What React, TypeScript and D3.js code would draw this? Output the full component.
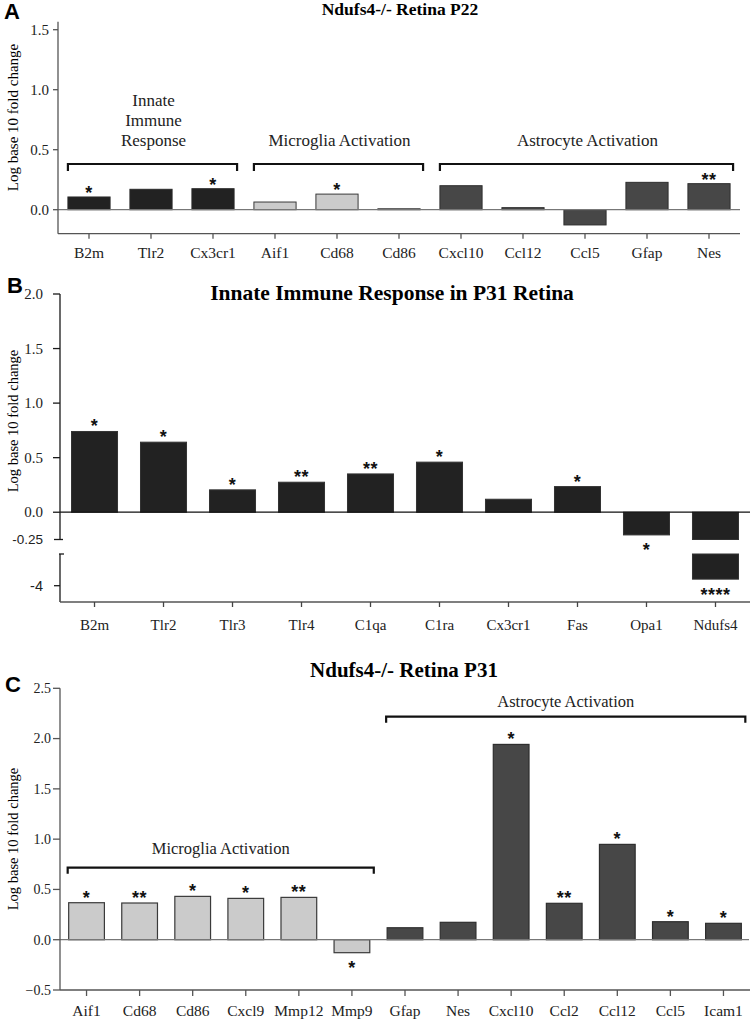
import React from "react";
import * as d3 from "d3";

// ---------- Panel A data ----------
const aCategories = ["B2m", "Tlr2", "Cx3cr1", "Aif1", "Cd68", "Cd86", "Cxcl10", "Ccl12", "Ccl5", "Gfap", "Nes"];
const aValues = [0.106, 0.17, 0.175, 0.064, 0.13, 0.008, 0.2, 0.017, -0.127, 0.228, 0.217];
const aStars = ["*", "", "*", "", "*", "", "", "", "", "", "**"];
const aGroups = ["innate", "innate", "innate", "microglia", "microglia", "microglia", "astro", "astro", "astro", "astro", "astro"];
const aTicks = [0, 0.5, 1.0, 1.5];
const aGroupNames = ["innate", "microglia", "astro"];
const aGroupLabels = [["Innate", "Immune", "Response"], ["Microglia Activation"], ["Astrocyte Activation"]];

// ---------- Panel B data ----------
const bCategories = ["B2m", "Tlr2", "Tlr3", "Tlr4", "C1qa", "C1ra", "Cx3cr1", "Fas", "Opa1", "Ndufs4"];
const bValues = [0.74, 0.642, 0.205, 0.275, 0.351, 0.459, 0.119, 0.235, -0.208, -3.94];
const bStars = ["*", "*", "*", "**", "**", "*", "", "*", "*", "****"];
const bTicksUpper = [0, 0.5, 1.0, 1.5, 2.0];
const bTicksBreakTop = [-0.25];
const bTicksLower = [-4];

// ---------- Panel C data ----------
const cCategories = ["Aif1", "Cd68", "Cd86", "Cxcl9", "Mmp12", "Mmp9", "Gfap", "Nes", "Cxcl10", "Ccl2", "Ccl12", "Ccl5", "Icam1"];
const cValues = [0.368, 0.365, 0.431, 0.411, 0.421, -0.129, 0.119, 0.173, 1.942, 0.362, 0.948, 0.179, 0.163];
const cStars = ["*", "**", "*", "*", "**", "*", "", "", "*", "**", "*", "*", "*"];
const cGroups = ["microglia", "microglia", "microglia", "microglia", "microglia", "microglia", "astro", "astro", "astro", "astro", "astro", "astro", "astro"];
const cTicks = [-0.5, 0, 0.5, 1.0, 1.5, 2.0, 2.5];
const cGroupNames = ["microglia", "astro"];
const cGroupLabels = [["Microglia Activation"], ["Astrocyte Activation"]];

const SERIF = "'Liberation Serif', 'Times New Roman', serif";
const SANS = "'Liberation Sans', Arial, sans-serif";

const fill: Record<string, string> = { innate: "#222222", microglia: "#cbcbcb", astro: "#474747" };
const stroke: Record<string, string> = { innate: "#2a2a2a", microglia: "#3a3a3a", astro: "#2e2e2e" };

const fmt = d3.format(".1f");

function Stars({ x, y, text }: { x: number; y: number; text: string }) {
  if (!text) return null;
  return (
    <text x={x} y={y} textAnchor="middle" fontFamily={SANS} fontSize={18} fontWeight="bold" letterSpacing={0.5} fill="#111">
      {text}
    </text>
  );
}

function PanelA() {
  const x = d3.scaleBand<string>().domain(aCategories).range([58, 740]).paddingInner(0.32).paddingOuter(0.16);
  const y = d3.scaleLinear().domain([-0.2, 1.5]).range([233.7, 29.7]);
  const bw = x.bandwidth();
  const axisColor = "#555";
  return (
    <g>
      <text x={4} y={19} fontFamily={SANS} fontWeight="bold" fontSize={22}>A</text>
      <text x={400} y={15} textAnchor="middle" fontFamily={SERIF} fontWeight="bold" fontSize={17.5}>Ndufs4-/- Retina P22</text>
      <text transform={`translate(18,117.5) rotate(-90)`} textAnchor="middle" fontFamily={SERIF} fontSize={15}>Log base 10 fold change</text>
      {aCategories.map((c, i) => {
        const v = aValues[i];
        const y0 = y(0), y1 = y(v);
        return (
          <rect key={c} x={x(c)} y={Math.min(y0, y1)} width={bw} height={Math.max(Math.abs(y1 - y0), 1)}
            fill={fill[aGroups[i]]} stroke={stroke[aGroups[i]]} strokeWidth={1} />
        );
      })}
      <line x1={58} x2={740} y1={y(0)} y2={y(0)} stroke="#777" strokeWidth={1.3} />
      <line x1={58} x2={58} y1={y(1.5) - 8} y2={y(-0.2)} stroke={axisColor} strokeWidth={1.3} />
      <line x1={58} x2={740} y1={y(-0.2)} y2={y(-0.2)} stroke={axisColor} strokeWidth={1.3} />
      {aTicks.map((t) => (
        <g key={t}>
          <line x1={53} x2={58} y1={y(t)} y2={y(t)} stroke={axisColor} strokeWidth={1.3} />
          <text x={49} y={y(t)} dy="0.35em" textAnchor="end" fontFamily={SERIF} fontSize={15} fill="#222">{fmt(t)}</text>
        </g>
      ))}
      {aCategories.map((c) => {
        const cx = (x(c) as number) + bw / 2;
        return (
          <g key={c}>
            <line x1={cx} x2={cx} y1={y(-0.2)} y2={y(-0.2) + 5} stroke={axisColor} strokeWidth={1.3} />
            <text x={cx} y={258} textAnchor="middle" fontFamily={SERIF} fontSize={15.5} fill="#222">{c}</text>
          </g>
        );
      })}
      {aCategories.map((c, i) => {
        const cx = (x(c) as number) + bw / 2;
        const v = aValues[i];
        return <Stars key={c} x={cx} y={v >= 0 ? y(v) + 2 : y(v) + 21} text={aStars[i]} />;
      })}
      {aGroupNames.map((g, gi) => {
        const cats = aCategories.filter((_, i) => aGroups[i] === g);
        const x0 = x(cats[0]) as number;
        const x1 = (x(cats[cats.length - 1]) as number) + bw + 3;
        const mid = (x0 + x1) / 2 + 1;
        const by = 164;
        const lines = aGroupLabels[gi];
        return (
          <g key={g}>
            <path d={`M${x0},${by + 7}V${by}H${x1}V${by + 7}`} fill="none" stroke="#111" strokeWidth={2.2} />
            {lines.map((l, li) => (
              <text key={l} x={mid} y={146 - (lines.length - 1 - li) * 20} textAnchor="middle" fontFamily={SERIF} fontSize={17} fill="#222">{l}</text>
            ))}
          </g>
        );
      })}
    </g>
  );
}

function PanelB() {
  const x = d3.scaleBand<string>().domain(bCategories).range([60, 750]).paddingInner(0.333).paddingOuter(0.1667);
  const y = d3.scaleLinear().domain([-0.25, 2.0]).range([539.5, 294]);
  const yL = d3.scaleLinear().domain([-4, -3.71]).range([585.7, 554]);
  const lowerTop = yL(-3.71);
  const bottom = 602;
  const bw = x.bandwidth();
  const axisColor = "#1a1a1a";
  return (
    <g>
      <text x={7} y={293} fontFamily={SANS} fontWeight="bold" fontSize={22}>B</text>
      <text x={392} y={300} textAnchor="middle" fontFamily={SERIF} fontWeight="bold" fontSize={21.5}>Innate Immune Response in P31 Retina</text>
      <text transform={`translate(18,421) rotate(-90)`} textAnchor="middle" fontFamily={SERIF} fontSize={14.5}>Log base 10 fold change</text>
      {bCategories.map((c, i) => {
        const v = bValues[i];
        const xx = x(c) as number;
        if (v >= -0.25) {
          const y0 = y(0), y1 = y(v);
          return <rect key={c} x={xx} y={Math.min(y0, y1)} width={bw} height={Math.abs(y1 - y0)} fill="#222" stroke="#333" strokeWidth={1} />;
        }
        return (
          <g key={c}>
            <rect x={xx} y={y(0)} width={bw} height={y(-0.25) - y(0)} fill="#222" stroke="#333" strokeWidth={1} />
            <rect x={xx} y={lowerTop} width={bw} height={yL(v) - lowerTop} fill="#222" stroke="#333" strokeWidth={1} />
          </g>
        );
      })}
      <line x1={60} x2={750} y1={y(0)} y2={y(0)} stroke="#111" strokeWidth={1.3} />
      <line x1={60} x2={60} y1={y(2.0)} y2={y(-0.25)} stroke={axisColor} strokeWidth={1.3} />
      {bTicksUpper.map((t) => (
        <g key={t}>
          <line x1={53} x2={60} y1={y(t)} y2={y(t)} stroke={axisColor} strokeWidth={1.3} />
          <text x={43} y={y(t)} dy="0.35em" textAnchor="end" fontFamily={SERIF} fontSize={15} fill="#222">{fmt(t)}</text>
        </g>
      ))}
      {bTicksBreakTop.map((t) => (
        <g key={t}>
          <line x1={54} x2={63} y1={y(t)} y2={y(t)} stroke={axisColor} strokeWidth={1.3} />
          <text x={43} y={y(t)} dy="0.35em" textAnchor="end" fontFamily={SANS} fontSize={13.5} fill="#222">{t}</text>
        </g>
      ))}
      <line x1={60} x2={60} y1={lowerTop} y2={bottom} stroke={axisColor} strokeWidth={1.3} />
      <line x1={59} x2={64} y1={lowerTop} y2={lowerTop} stroke={axisColor} strokeWidth={1.3} />
      {bTicksLower.map((t) => (
        <g key={t}>
          <line x1={54} x2={60} y1={yL(t)} y2={yL(t)} stroke={axisColor} strokeWidth={1.3} />
          <text x={43} y={yL(t)} dy="0.35em" textAnchor="end" fontFamily={SANS} fontSize={14.5} fill="#222">{t}</text>
        </g>
      ))}
      <line x1={60} x2={750} y1={bottom} y2={bottom} stroke="#555" strokeWidth={1.3} />
      {bCategories.map((c) => {
        const cx = (x(c) as number) + bw / 2;
        return (
          <g key={c}>
            <line x1={cx} x2={cx} y1={bottom} y2={bottom + 5} stroke="#444" strokeWidth={1.3} />
            <text x={cx} y={630} textAnchor="middle" fontFamily={SERIF} fontSize={15} fill="#222">{c}</text>
          </g>
        );
      })}
      {bCategories.map((c, i) => {
        const cx = (x(c) as number) + bw / 2;
        const v = bValues[i];
        let sy: number;
        if (v >= 0) sy = y(v) + 1;
        else if (v >= -0.25) sy = y(v) + 21;
        else sy = yL(v) + 22;
        return <Stars key={c} x={cx} y={sy} text={bStars[i]} />;
      })}
    </g>
  );
}

function PanelC() {
  const x = d3.scaleBand<string>().domain(cCategories).range([60, 750]).paddingInner(0.327).paddingOuter(0.1635);
  const y = d3.scaleLinear().domain([-0.5, 2.5]).range([990, 688.3]);
  const bw = x.bandwidth();
  const axisColor = "#555";
  const bracketY = [867.7, 716.7];
  const labelY = [853.5, 706.7];
  return (
    <g>
      <text x={5} y={692} fontFamily={SANS} fontWeight="bold" fontSize={22}>C</text>
      <text x={404} y={677} textAnchor="middle" fontFamily={SERIF} fontWeight="bold" fontSize={21}>Ndufs4-/- Retina P31</text>
      <text transform={`translate(18,839) rotate(-90)`} textAnchor="middle" fontFamily={SERIF} fontSize={14.5}>Log base 10 fold change</text>
      {cCategories.map((c, i) => {
        const v = cValues[i];
        const y0 = y(0), y1 = y(v);
        return (
          <rect key={c} x={x(c)} y={Math.min(y0, y1)} width={bw} height={Math.abs(y1 - y0)}
            fill={fill[cGroups[i]]} stroke={stroke[cGroups[i]]} strokeWidth={1.2} />
        );
      })}
      <line x1={60} x2={749} y1={y(0)} y2={y(0)} stroke="#777" strokeWidth={1.3} />
      <line x1={60} x2={60} y1={y(2.5)} y2={y(-0.5)} stroke={axisColor} strokeWidth={1.3} />
      <line x1={60} x2={750} y1={y(-0.5)} y2={y(-0.5)} stroke={axisColor} strokeWidth={1.3} />
      {cTicks.map((t) => (
        <g key={t}>
          <line x1={53} x2={60} y1={y(t)} y2={y(t)} stroke={axisColor} strokeWidth={1.3} />
          <text x={51} y={y(t)} dy="0.35em" textAnchor="end" fontFamily={SERIF} fontSize={14} fill="#222">{fmt(t)}</text>
        </g>
      ))}
      {cCategories.map((c) => {
        const cx = (x(c) as number) + bw / 2;
        return (
          <g key={c}>
            <line x1={cx} x2={cx} y1={y(-0.5)} y2={y(-0.5) + 6} stroke={axisColor} strokeWidth={1.3} />
            <text x={cx} y={1016} textAnchor="middle" fontFamily={SERIF} fontSize={15.5} fill="#222">{c}</text>
          </g>
        );
      })}
      {cCategories.map((c, i) => {
        const cx = (x(c) as number) + bw / 2;
        const v = cValues[i];
        return <Stars key={c} x={cx} y={v >= 0 ? y(v) + 1 : y(v) + 21} text={cStars[i]} />;
      })}
      {cGroupNames.map((g, gi) => {
        const cats = cCategories.filter((_, i) => cGroups[i] === g);
        const x0 = (x(cats[0]) as number) - 1;
        const x1 = (x(cats[cats.length - 1]) as number) + bw + 4;
        const mid = (x0 + x1) / 2;
        const by = bracketY[gi];
        return (
          <g key={g}>
            <path d={`M${x0},${by + 6}V${by}H${x1}V${by + 6}`} fill="none" stroke="#111" strokeWidth={2.2} />
            {cGroupLabels[gi].map((l) => (
              <text key={l} x={mid} y={labelY[gi]} textAnchor="middle" fontFamily={SERIF} fontSize={16.5} fill="#222">{l}</text>
            ))}
          </g>
        );
      })}
    </g>
  );
}

export default function App() {
  return (
    <svg width={752} height={1021} viewBox="0 0 752 1021"
      style={{ position: "absolute", left: 0, top: 0, background: "#fff" }}>
      <rect width={752} height={1021} fill="#fff" />
      <PanelA />
      <PanelB />
      <PanelC />
    </svg>
  );
}
